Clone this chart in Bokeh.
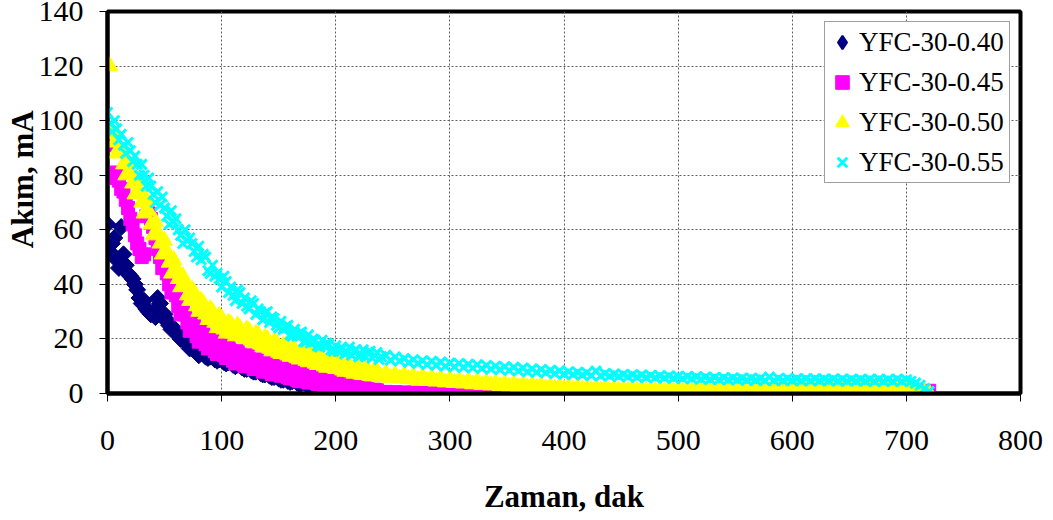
import numpy as np
from bokeh.plotting import figure
from bokeh.models import Range1d, FixedTicker, Legend, LegendItem
from bokeh.embed import file_html
from bokeh.resources import INLINE

series_names = ["YFC-30-0.40", "YFC-30-0.45", "YFC-30-0.50", "YFC-30-0.55"]
series_colors = ["#000080", "#FF00FF", "#FFFF00", "#00FFFF"]
x_ticks = [0, 100, 200, 300, 400, 500, 600, 700, 800]
y_ticks = [0, 20, 40, 60, 80, 100, 120, 140]

# time, minutes
time_min = [
    0, 2, 4, 6, 8, 10, 12, 14, 16, 18,
    20, 22, 24, 26, 28, 30, 32, 34, 36, 38,
    40, 42, 44, 46, 48, 50, 52, 54, 56, 58,
    60, 62, 64, 66, 68, 70, 72, 74, 76, 78,
    80, 82, 84, 86, 88, 90, 92, 94, 96, 98,
    100, 102, 104, 106, 108, 110, 112, 114, 116, 118,
    120, 122, 124, 126, 128, 130, 132, 134, 136, 138,
    140, 142, 144, 146, 148, 150, 152, 154, 156, 158,
    160, 162, 164, 166, 168, 170, 172, 174, 176, 178,
    180, 182, 184, 186, 188, 190, 192, 194, 196, 198,
    200, 202, 204, 206, 208, 210, 212, 214, 216, 218,
    220, 222, 224, 226, 228, 230, 232, 234, 236, 238,
    240,
    244, 248, 252, 256, 260, 264, 268, 272, 276, 280,
    284, 288, 292, 296, 300, 304, 308, 312, 316, 320,
    324, 328, 332, 336, 340, 344, 348, 352, 356, 360,
    364, 368, 372, 376, 380, 384, 388, 392, 396, 400,
    404, 408, 412, 416, 420, 424, 428, 432, 436, 440,
    444, 448, 452, 456, 460, 464, 468, 472, 476, 480,
    484, 488, 492, 496, 500, 504, 508, 512, 516, 520,
    524, 528, 532, 536, 540, 544, 548, 552, 556, 560,
    564, 568, 572, 576, 580, 584, 588, 592, 596, 600,
    604, 608, 612, 616, 620, 624, 628, 632, 636, 640,
    644, 648, 652, 656, 660, 664, 668, 672, 676, 680,
    684, 688, 692, 696, 700, 704, 708, 712, 716, 720]

# current, mA (YFC-30-0.40 recorded until 240 min)
akim_040 = [
    62, 52, 55, 57, 49, 46, 61, 51, 47, 44,
    43, 42, 40, 38, 35, 33, 34, 31, 30, 29,
    30, 28, 35, 33, 28, 29, 27, 25, 23.5, 24,
    23, 21.5, 20, 20.5, 20, 18, 16.5, 17, 16, 15.5,
    14, 15, 15, 13.5, 13, 13.5, 14, 12.5, 12, 12.5,
    13, 11.5, 11, 11.5, 12, 10.5, 10, 10.5, 11, 9.5,
    9, 9, 9.5, 8.5, 8, 8, 8.5, 7.5, 7, 7,
    7.5, 6.5, 6, 6, 6.5, 5.5, 5, 5, 5.5, 4.6,
    4.2, 4.5, 5, 4, 3.5, 3.8, 4.2, 3.5, 3, 3.2,
    3.6, 3, 2.5, 2.6, 3, 2.5, 2, 2.2, 2.5, 2,
    1.6, 1.7, 2, 1.5, 1.2, 1.3, 1.5, 1.1, 0.8, 0.9,
    1, 0.7, 0.5, 0.6, 0.6, 0.4, 0.2, 0.3, 0.3, 0.1,
    0]

akim_045 = [
    92, 91, 80, 79, 81, 78, 75, 74, 71, 68,
    64, 62, 58, 55, 53, 50, 51, 65, 66, 64,
    61, 57, 53, 50, 46, 47, 44, 40, 37, 39,
    36, 32, 29, 32, 29, 26, 23, 27, 25, 21,
    19, 23, 22, 18, 16.5, 21, 20, 15.5, 14.5, 19,
    18, 14, 13, 17, 16, 12, 11, 15.5, 14.5, 11,
    10, 14, 13.5, 10, 9, 12.5, 12, 9, 8, 11.5,
    11, 8, 7, 10.5, 10, 7, 6.5, 9.5, 9, 6,
    5.5, 8.5, 8, 5, 4.5, 8, 7.5, 4.5, 4, 7,
    6.5, 4, 3.5, 6, 5.5, 3, 2.5, 5, 4.5, 2.5,
    2, 4, 3.5, 2, 1.5, 3.2, 3, 1.2, 1, 2.6,
    2.2, 1, 0.8, 2, 1.6, 0.6, 0.5, 1.4, 1.2, 0.4,
    0.3,
    0.6, 0.2, 0.5, 0.1, 0.4, 0, 0.3, 0, 0.2, 0,
    0.2, 0, 0.1, 0, 0.1, 0, 0.1, 0, 0, 0,
    0, 0, 0, 0, 0, 0, 0, 0, 0, 0,
    0, 0, 0, 0, 0, 0, 0, 0, 0, 0,
    0, 0, 0, 0, 0, 0, 0, 0, 0, 0,
    0, 0, 0, 0, 0, 0, 0, 0, 0, 0,
    0, 0, 0, 0, 0, 0, 0, 0, 0, 0,
    0, 0, 0, 0, 0, 0, 0, 0, 0, 0,
    0, 0, 0, 0, 0, 0, 0, 0, 0, 0,
    0, 0, 0, 0, 0, 0, 0, 0, 0, 0,
    0, 0, 0, 0, 0, 0, 0, 0, 0, 0,
    0, 0, 0, 0, 0, 0, 0, 0, 0, 1]

akim_050 = [
    95, 120, 96, 92, 88, 90, 89, 84, 80, 85,
    81, 77, 73, 78, 74, 70, 66, 71, 67, 62,
    58, 63, 59, 55, 51, 56, 52, 48, 44, 49,
    46, 42, 39, 43, 41, 36, 34, 38, 37, 32,
    30, 34, 33, 29, 27, 31, 30, 26, 24, 28.5,
    27.5, 23.5, 22, 26, 25.5, 22, 21, 25, 24, 21,
    20, 23.5, 23, 19.5, 18.5, 22, 21.5, 18, 17, 20.5,
    20, 16.5, 15.5, 19, 18.5, 15, 14.5, 17.5, 17.5, 14,
    13.5, 16.5, 16, 13, 12.5, 15.5, 15, 12, 11.5, 14.5,
    14, 11, 10.5, 13.5, 13, 10, 9.5, 12.5, 12, 9.5,
    9, 11.5, 11, 8.5, 8, 10.5, 10, 7.8, 7.3, 9.6,
    9.2, 7, 6.8, 9, 8.8, 6.5, 6.3, 8.5, 8.3, 6.2,
    6,
    7.4, 5.8, 7, 5.5, 6.8, 5.3, 6.4, 5, 6.1, 4.7,
    5.8, 4.4, 5.5, 4.1, 5.2, 3.9, 4.9, 3.7, 4.6, 3.4,
    4.4, 3.2, 4.1, 3, 3.9, 2.8, 3.7, 2.6, 3.5, 2.4,
    3.3, 2.2, 3.1, 2.1, 2.9, 1.9, 2.7, 1.8, 2.5, 1.6,
    2.3, 1.5, 2.2, 1.4, 2, 1.3, 1.9, 1.2, 1.8, 1.1,
    1.7, 1.1, 1.5, 1, 1.4, 1, 1.3, 0.9, 1.3, 0.9,
    1.2, 0.9, 1.2, 0.8, 1.2, 0.8, 1.1, 0.8, 1.1, 0.8,
    1.1, 0.7, 1, 0.7, 1, 0.7, 1, 0.7, 1, 0.7,
    1, 0.7, 1, 0.6, 1, 0.6, 1, 0.6, 0.9, 0.6,
    0.9, 0.6, 0.9, 0.6, 0.9, 0.6, 0.9, 0.6, 0.9, 0.6,
    0.9, 0.6, 0.9, 0.5, 0.9, 0.5, 0.9, 0.5, 0.9, 0.5,
    0.8, 0.5, 0.8, 0.5, 0.8, 0.5, 0.6, 0.4, 0.3, 0.2]

akim_055 = [
    103, 99, 96, 100, 97, 93, 95, 91, 88, 92,
    89, 85, 87, 84, 80, 84, 80, 76, 79, 76,
    73, 70, 74, 69, 72, 68, 65, 62, 67, 63,
    64, 60, 58, 55, 60, 56, 57, 55, 52, 50,
    54, 49, 51, 50, 45, 44, 47, 43, 44, 42,
    39, 43, 41, 37, 39, 36, 34, 38, 37, 33,
    35, 32, 31, 34, 33, 29, 31, 30, 27, 29.5,
    30, 26, 28, 27.5, 25, 24, 26.5, 23.5, 24.5, 25,
    21.5, 21, 23.5, 21, 22, 22.5, 19, 19, 21.5, 18.5,
    20, 19.5, 17.5, 17, 19.5, 17.5, 18.5, 18, 16, 15.5,
    17.5, 15.5, 16.5, 16.5, 14.5, 15, 17, 14, 15.5, 16,
    13.5, 14, 16, 13.5, 15, 15.5, 13, 14, 15, 12.5,
    13.5,
    14, 12.2, 13.4, 12, 12.8, 11.4, 12.4, 11, 12, 10.6,
    11.8, 10.4, 11.5, 10, 11.2, 9.8, 11, 9.6, 10.7, 9.4,
    10.5, 9.2, 10.3, 9, 10, 8.8, 9.8, 8.5, 9.6, 8.3,
    9.3, 8, 9, 7.8, 8.8, 7.6, 8.5, 7.3, 8.3, 7.1,
    8, 7, 7.8, 6.8, 7.6, 6.6, 8.2, 6.5, 7.3, 6.4,
    7.1, 6.3, 7, 6.1, 6.9, 6, 6.8, 5.9, 6.6, 5.8,
    6.5, 5.7, 6.4, 5.6, 6.3, 5.5, 6.2, 5.4, 6.1, 5.3,
    6, 5.2, 5.9, 5.1, 5.8, 5, 5.7, 5, 5.6, 4.9,
    5.6, 4.9, 5.5, 4.8, 6, 4.8, 5.5, 4.8, 5.5, 4.8,
    5.4, 4.7, 5.4, 4.7, 5.4, 4.7, 5.3, 4.7, 5.3, 4.6,
    5.3, 4.6, 5.2, 4.6, 5.2, 4.6, 5.2, 4.5, 5.2, 4.5,
    5.1, 4.5, 5.3, 4.5, 5, 4.5, 3.8, 3, 1.8, 0.8]

FONT = "Liberation Serif"

p = figure(width=1053, height=520, output_backend="svg", toolbar_location=None,
           x_range=Range1d(0, 800), y_range=Range1d(0, 140),
           min_border_left=107, min_border_right=33, min_border_top=11, min_border_bottom=127)
p.background_fill_color = "white"
p.border_fill_color = "white"
p.outline_line_color = "black"
p.outline_line_width = 4

for ax in (p.xaxis[0], p.yaxis[0]):
    ax.axis_line_color = "black"
    ax.axis_line_width = 4
    ax.major_tick_in = 0
    ax.major_tick_out = 8
    ax.major_tick_line_color = "black"
    ax.major_tick_line_width = 1
    ax.minor_tick_line_color = None
    ax.major_label_text_font = FONT
    ax.major_label_text_font_size = "30px"
    ax.major_label_text_color = "black"
    ax.axis_label_text_font = FONT
    ax.axis_label_text_font_style = "bold"
    ax.axis_label_text_font_size = "31px"
    ax.axis_label_text_color = "black"

p.xaxis.ticker = FixedTicker(ticks=x_ticks)
p.yaxis.ticker = FixedTicker(ticks=y_ticks)
p.xaxis.major_label_standoff = 29
p.yaxis.major_label_standoff = 16
p.xaxis.axis_label = "Zaman, dak"
p.xaxis.axis_label_standoff = 26
p.yaxis.axis_label = "\u00a0" * 6 + "Akım, mA"
p.yaxis.axis_label_standoff = -4

for g in (p.xgrid[0], p.ygrid[0]):
    g.grid_line_color = "#606060"
    g.grid_line_dash = "2 2"
    g.grid_line_width = 1

r40 = p.scatter(time_min[:len(akim_040)], akim_040, marker="square", angle=np.pi / 4, size=12,
                fill_color=series_colors[0], line_color=series_colors[0], line_width=1)
r45 = p.scatter(time_min[:len(akim_045)], akim_045, marker="square", size=13,
                fill_color=series_colors[1], line_color=series_colors[1], line_width=1)
r50 = p.scatter(time_min[:len(akim_050)], akim_050, marker="triangle", size=16,
                fill_color=series_colors[2], line_color=series_colors[2], line_width=1)
r55 = p.scatter(time_min[:len(akim_055)], akim_055, marker="x", size=14,
                line_color=series_colors[3], line_width=3)

# legend-only glyph (no visible point) so the first entry shows a diamond
lg40 = p.scatter([np.nan], [np.nan], marker="diamond", size=11,
                 fill_color=series_colors[0], line_color=series_colors[0], line_width=2)

legend = Legend(items=[LegendItem(label=n, renderers=[r]) for n, r in
                       zip(series_names, [lg40, r45, r50, r55])],
                location="top_right")
legend.margin = 10
legend.padding = 0
legend.spacing = 0
legend.glyph_width = 34
legend.glyph_height = 40
legend.label_standoff = -1
legend.label_width = 150
legend.label_height = 40
legend.label_text_font = FONT
legend.label_text_font_size = "27px"
legend.label_text_color = "black"
legend.border_line_color = "#404040"
legend.border_line_width = 1.5
legend.background_fill_color = "white"
legend.background_fill_alpha = 1
p.add_layout(legend, "center")

open("out.html", "w").write(file_html(p, INLINE))
